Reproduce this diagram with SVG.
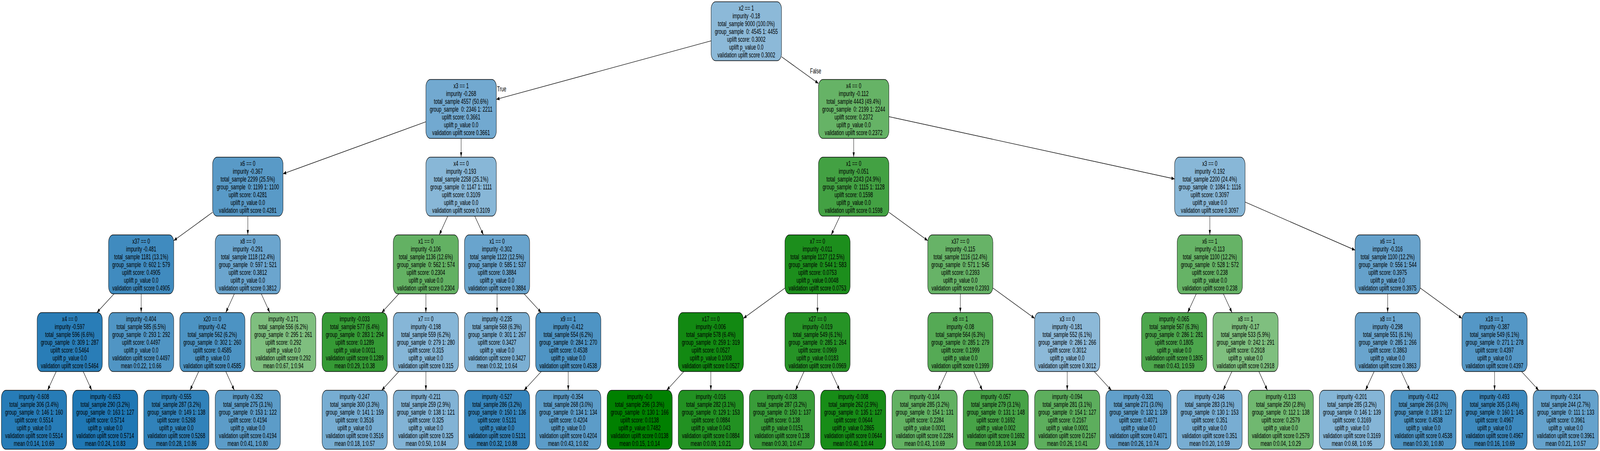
<svg xmlns="http://www.w3.org/2000/svg" width="6676" height="1155" viewBox="0 0 6676 1155" preserveAspectRatio="none" style="width:100vw;height:100vh;display:block">
<defs>
<style>
.node rect{stroke:#000;stroke-width:1.4;rx:19px;ry:19px}
.node text{font-family:"Liberation Sans",Arial,sans-serif;font-size:19px;text-anchor:middle;fill:#000}
.edges line{stroke:#000;stroke-width:1.4;marker-end:url(#arr)}
.elabel{font-family:"Liberation Sans",Arial,sans-serif;font-size:19px;fill:#000}
</style>
<marker id="arr" markerUnits="userSpaceOnUse" markerWidth="14" markerHeight="10" refX="13" refY="5" orient="auto" viewBox="0 0 14 10"><path d="M0,0.5 L13,5 L0,9.5 z" fill="#000"/></marker>
</defs>
<rect x="0" y="0" width="6676" height="1155" fill="#fff"/>
<g id="edges" class="edges">
<line x1="2967" y1="104.6" x2="2071" y2="254.4"/>
<line x1="3261" y1="145.3" x2="3415" y2="213.7"/>
<line x1="1777" y1="311.9" x2="1181" y2="445.1"/>
<line x1="1924" y1="354.5" x2="1924" y2="402.5"/>
<line x1="3562" y1="354.5" x2="3562" y2="402.5"/>
<line x1="3709" y1="298.7" x2="4901" y2="458.3"/>
<line x1="887" y1="543.7" x2="725" y2="616.2"/>
<line x1="1034" y1="553.5" x2="1034" y2="601.5"/>
<line x1="1868.2" y1="553.5" x2="1832.8" y2="601.5"/>
<line x1="1980.9" y1="553.5" x2="2017.1" y2="601.5"/>
<line x1="3504.7" y1="553.5" x2="3468.3" y2="601.5"/>
<line x1="3709" y1="543.7" x2="3871" y2="616.2"/>
<line x1="5048" y1="553.5" x2="5048" y2="601.5"/>
<line x1="5195" y1="517.4" x2="5654" y2="640.5"/>
<line x1="475.9" y1="752.5" x2="404.1" y2="800.5"/>
<line x1="589" y1="752.5" x2="589" y2="800.5"/>
<line x1="977.8" y1="752.5" x2="942.2" y2="800.5"/>
<line x1="1090.2" y1="752.5" x2="1125.8" y2="800.5"/>
<line x1="1664.3" y1="752.5" x2="1592.7" y2="800.5"/>
<line x1="1777" y1="752.5" x2="1777" y2="800.5"/>
<line x1="2074" y1="752.5" x2="2074" y2="800.5"/>
<line x1="2186.7" y1="752.5" x2="2258.3" y2="800.5"/>
<line x1="3275" y1="737.8" x2="3102" y2="815.2"/>
<line x1="3411" y1="752.5" x2="3411" y2="800.5"/>
<line x1="4007" y1="752.5" x2="4007" y2="800.5"/>
<line x1="4143" y1="737.7" x2="4317" y2="815.3"/>
<line x1="4991.5" y1="752.5" x2="4955.5" y2="800.5"/>
<line x1="5104.5" y1="752.5" x2="5140.5" y2="800.5"/>
<line x1="5790" y1="752.5" x2="5790" y2="800.5"/>
<line x1="5926" y1="737.7" x2="6100" y2="815.3"/>
<line x1="234.5" y1="951.5" x2="198.5" y2="999.5"/>
<line x1="347.2" y1="951.5" x2="382.8" y2="999.5"/>
<line x1="829.1" y1="951.5" x2="792.9" y2="999.5"/>
<line x1="942.2" y1="951.5" x2="977.8" y2="999.5"/>
<line x1="1664.3" y1="951.5" x2="1592.7" y2="999.5"/>
<line x1="1777" y1="951.5" x2="1777" y2="999.5"/>
<line x1="2258.3" y1="951.5" x2="2186.7" y2="999.5"/>
<line x1="2371" y1="951.5" x2="2371" y2="999.5"/>
<line x1="2853.3" y1="951.5" x2="2781.7" y2="999.5"/>
<line x1="2966" y1="951.5" x2="2966" y2="999.5"/>
<line x1="3354.8" y1="951.5" x2="3319.2" y2="999.5"/>
<line x1="3467.5" y1="951.5" x2="3503.5" y2="999.5"/>
<line x1="3950.5" y1="951.5" x2="3914.5" y2="999.5"/>
<line x1="4063.2" y1="951.5" x2="4098.8" y2="999.5"/>
<line x1="4453" y1="951.5" x2="4453" y2="999.5"/>
<line x1="4565.7" y1="951.5" x2="4637.3" y2="999.5"/>
<line x1="5140.1" y1="951.5" x2="5103.9" y2="999.5"/>
<line x1="5252.8" y1="951.5" x2="5288.2" y2="999.5"/>
<line x1="5733.5" y1="951.5" x2="5697.5" y2="999.5"/>
<line x1="5846.5" y1="951.5" x2="5882.5" y2="999.5"/>
<line x1="6236" y1="951.5" x2="6236" y2="999.5"/>
<line x1="6348.7" y1="951.5" x2="6420.3" y2="999.5"/>
<text class="elabel" x="2074" y="234">True</text>
<text class="elabel" x="3380" y="188">False</text>
</g>

<g id="n0" class="node"><rect x="2967" y="4.5" width="294" height="151" fill="#8cb9d8"/><text x="3114" y="26.8"><tspan x="3114">x2 == 1</tspan><tspan x="3114" dy="20">impurity -0.18</tspan><tspan x="3114" dy="20">total_sample 9000 (100.0%)</tspan><tspan x="3114" dy="20">group_sample&#160; 0: 4545 1: 4455</tspan><tspan x="3114" dy="20">uplift score: 0.3002</tspan><tspan x="3114" dy="20">uplift p_value 0.0</tspan><tspan x="3114" dy="20">validation uplift score 0.3002</tspan></text></g>

<g id="n1" class="node"><rect x="1777" y="203.5" width="294" height="151" fill="#72a9d0"/><text x="1924" y="225.8"><tspan x="1924">x3 == 1</tspan><tspan x="1924" dy="20">impurity -0.268</tspan><tspan x="1924" dy="20">total_sample 4557 (50.6%)</tspan><tspan x="1924" dy="20">group_sample&#160; 0: 2346 1: 2211</tspan><tspan x="1924" dy="20">uplift score: 0.3661</tspan><tspan x="1924" dy="20">uplift p_value 0.0</tspan><tspan x="1924" dy="20">validation uplift score 0.3661</tspan></text></g>
<g id="n2" class="node"><rect x="3415" y="203.5" width="294" height="151" fill="#66b366"/><text x="3562" y="225.8"><tspan x="3562">x4 == 0</tspan><tspan x="3562" dy="20">impurity -0.112</tspan><tspan x="3562" dy="20">total_sample 4443 (49.4%)</tspan><tspan x="3562" dy="20">group_sample&#160; 0: 2199 1: 2244</tspan><tspan x="3562" dy="20">uplift score: 0.2372</tspan><tspan x="3562" dy="20">uplift p_value 0.0</tspan><tspan x="3562" dy="20">validation uplift score 0.2372</tspan></text></g>

<g id="n3" class="node"><rect x="887" y="402.5" width="294" height="151" fill="#599ac7"/><text x="1034" y="424.8"><tspan x="1034">x6 == 0</tspan><tspan x="1034" dy="20">impurity -0.367</tspan><tspan x="1034" dy="20">total_sample 2299 (25.5%)</tspan><tspan x="1034" dy="20">group_sample&#160; 0: 1199 1: 1100</tspan><tspan x="1034" dy="20">uplift score: 0.4281</tspan><tspan x="1034" dy="20">uplift p_value 0.0</tspan><tspan x="1034" dy="20">validation uplift score 0.4281</tspan></text></g>
<g id="n4" class="node"><rect x="1777" y="402.5" width="294" height="151" fill="#88b7d7"/><text x="1924" y="424.8"><tspan x="1924">x4 == 0</tspan><tspan x="1924" dy="20">impurity -0.193</tspan><tspan x="1924" dy="20">total_sample 2258 (25.1%)</tspan><tspan x="1924" dy="20">group_sample&#160; 0: 1147 1: 1111</tspan><tspan x="1924" dy="20">uplift score: 0.3109</tspan><tspan x="1924" dy="20">uplift p_value 0.0</tspan><tspan x="1924" dy="20">validation uplift score 0.3109</tspan></text></g>
<g id="n5" class="node"><rect x="3415" y="402.5" width="294" height="151" fill="#43a143"/><text x="3562" y="424.8"><tspan x="3562">x1 == 0</tspan><tspan x="3562" dy="20">impurity -0.051</tspan><tspan x="3562" dy="20">total_sample 2243 (24.9%)</tspan><tspan x="3562" dy="20">group_sample&#160; 0: 1115 1: 1128</tspan><tspan x="3562" dy="20">uplift score: 0.1598</tspan><tspan x="3562" dy="20">uplift p_value 0.0</tspan><tspan x="3562" dy="20">validation uplift score 0.1598</tspan></text></g>
<g id="n6" class="node"><rect x="4901" y="402.5" width="294" height="151" fill="#88b7d7"/><text x="5048" y="424.8"><tspan x="5048">x3 == 0</tspan><tspan x="5048" dy="20">impurity -0.192</tspan><tspan x="5048" dy="20">total_sample 2200 (24.4%)</tspan><tspan x="5048" dy="20">group_sample&#160; 0: 1084 1: 1116</tspan><tspan x="5048" dy="20">uplift score: 0.3097</tspan><tspan x="5048" dy="20">uplift p_value 0.0</tspan><tspan x="5048" dy="20">validation uplift score 0.3097</tspan></text></g>

<g id="n7" class="node"><rect x="453" y="601.5" width="272" height="151" fill="#408bbf"/><text x="589" y="623.8"><tspan x="589">x37 == 0</tspan><tspan x="589" dy="20">impurity -0.481</tspan><tspan x="589" dy="20">total_sample 1181 (13.1%)</tspan><tspan x="589" dy="20">group_sample&#160; 0: 602 1: 579</tspan><tspan x="589" dy="20">uplift score: 0.4905</tspan><tspan x="589" dy="20">uplift p_value 0.0</tspan><tspan x="589" dy="20">validation uplift score 0.4905</tspan></text></g>
<g id="n8" class="node"><rect x="898" y="601.5" width="272" height="151" fill="#6ba5ce"/><text x="1034" y="623.8"><tspan x="1034">x8 == 0</tspan><tspan x="1034" dy="20">impurity -0.291</tspan><tspan x="1034" dy="20">total_sample 1118 (12.4%)</tspan><tspan x="1034" dy="20">group_sample&#160; 0: 597 1: 521</tspan><tspan x="1034" dy="20">uplift score: 0.3812</tspan><tspan x="1034" dy="20">uplift p_value 0.0</tspan><tspan x="1034" dy="20">validation uplift score 0.3812</tspan></text></g>
<g id="n9" class="node"><rect x="1641" y="601.5" width="272" height="151" fill="#63b163"/><text x="1777" y="623.8"><tspan x="1777">x1 == 0</tspan><tspan x="1777" dy="20">impurity -0.106</tspan><tspan x="1777" dy="20">total_sample 1136 (12.6%)</tspan><tspan x="1777" dy="20">group_sample&#160; 0: 562 1: 574</tspan><tspan x="1777" dy="20">uplift score: 0.2304</tspan><tspan x="1777" dy="20">uplift p_value 0.0</tspan><tspan x="1777" dy="20">validation uplift score 0.2304</tspan></text></g>
<g id="n10" class="node"><rect x="1938" y="601.5" width="272" height="151" fill="#69a4cd"/><text x="2074" y="623.8"><tspan x="2074">x1 == 0</tspan><tspan x="2074" dy="20">impurity -0.302</tspan><tspan x="2074" dy="20">total_sample 1122 (12.5%)</tspan><tspan x="2074" dy="20">group_sample&#160; 0: 585 1: 537</tspan><tspan x="2074" dy="20">uplift score: 0.3884</tspan><tspan x="2074" dy="20">uplift p_value 0.0</tspan><tspan x="2074" dy="20">validation uplift score 0.3884</tspan></text></g>
<g id="n11" class="node"><rect x="3275" y="601.5" width="272" height="151" fill="#1c8e1c"/><text x="3411" y="623.8"><tspan x="3411">x7 == 0</tspan><tspan x="3411" dy="20">impurity -0.011</tspan><tspan x="3411" dy="20">total_sample 1127 (12.5%)</tspan><tspan x="3411" dy="20">group_sample&#160; 0: 544 1: 583</tspan><tspan x="3411" dy="20">uplift score: 0.0753</tspan><tspan x="3411" dy="20">uplift p_value 0.0048</tspan><tspan x="3411" dy="20">validation uplift score 0.0753</tspan></text></g>
<g id="n12" class="node"><rect x="3871" y="601.5" width="272" height="151" fill="#67b367"/><text x="4007" y="623.8"><tspan x="4007">x37 == 0</tspan><tspan x="4007" dy="20">impurity -0.115</tspan><tspan x="4007" dy="20">total_sample 1116 (12.4%)</tspan><tspan x="4007" dy="20">group_sample&#160; 0: 571 1: 545</tspan><tspan x="4007" dy="20">uplift score: 0.2393</tspan><tspan x="4007" dy="20">uplift p_value 0.0</tspan><tspan x="4007" dy="20">validation uplift score 0.2393</tspan></text></g>
<g id="n13" class="node"><rect x="4912" y="601.5" width="272" height="151" fill="#66b366"/><text x="5048" y="623.8"><tspan x="5048">x6 == 1</tspan><tspan x="5048" dy="20">impurity -0.113</tspan><tspan x="5048" dy="20">total_sample 1100 (12.2%)</tspan><tspan x="5048" dy="20">group_sample&#160; 0: 528 1: 572</tspan><tspan x="5048" dy="20">uplift score: 0.238</tspan><tspan x="5048" dy="20">uplift p_value 0.0</tspan><tspan x="5048" dy="20">validation uplift score 0.238</tspan></text></g>
<g id="n14" class="node"><rect x="5654" y="601.5" width="272" height="151" fill="#65a1cb"/><text x="5790" y="623.8"><tspan x="5790">x6 == 1</tspan><tspan x="5790" dy="20">impurity -0.316</tspan><tspan x="5790" dy="20">total_sample 1100 (12.2%)</tspan><tspan x="5790" dy="20">group_sample&#160; 0: 556 1: 544</tspan><tspan x="5790" dy="20">uplift score: 0.3975</tspan><tspan x="5790" dy="20">uplift p_value 0.0</tspan><tspan x="5790" dy="20">validation uplift score 0.3975</tspan></text></g>

<g id="n15" class="node"><rect x="155" y="800.5" width="272" height="151" fill="#297db7"/><text x="291" y="822.8"><tspan x="291">x4 == 0</tspan><tspan x="291" dy="20">impurity -0.597</tspan><tspan x="291" dy="20">total_sample 596 (6.6%)</tspan><tspan x="291" dy="20">group_sample&#160; 0: 309 1: 287</tspan><tspan x="291" dy="20">uplift score: 0.5464</tspan><tspan x="291" dy="20">uplift p_value 0.0</tspan><tspan x="291" dy="20">validation uplift score 0.5464</tspan></text></g>
<g id="n16" class="node"><rect x="453" y="800.5" width="272" height="151" fill="#5095c4"/><text x="589" y="822.8"><tspan x="589">impurity -0.404</tspan><tspan x="589" dy="20">total_sample 585 (6.5%)</tspan><tspan x="589" dy="20">group_sample&#160; 0: 293 1: 292</tspan><tspan x="589" dy="20">uplift score: 0.4497</tspan><tspan x="589" dy="20">uplift p_value 0.0</tspan><tspan x="589" dy="20">validation uplift score 0.4497</tspan><tspan x="589" dy="20">mean 0:0.22, 1:0.66</tspan></text></g>
<g id="n17" class="node"><rect x="750" y="800.5" width="272" height="151" fill="#4c93c3"/><text x="886" y="822.8"><tspan x="886">x20 == 0</tspan><tspan x="886" dy="20">impurity -0.42</tspan><tspan x="886" dy="20">total_sample 562 (6.2%)</tspan><tspan x="886" dy="20">group_sample&#160; 0: 302 1: 260</tspan><tspan x="886" dy="20">uplift score: 0.4585</tspan><tspan x="886" dy="20">uplift p_value 0.0</tspan><tspan x="886" dy="20">validation uplift score 0.4585</tspan></text></g>
<g id="n18" class="node"><rect x="1046" y="800.5" width="272" height="151" fill="#7fbf7f"/><text x="1182" y="822.8"><tspan x="1182">impurity -0.171</tspan><tspan x="1182" dy="20">total_sample 556 (6.2%)</tspan><tspan x="1182" dy="20">group_sample&#160; 0: 295 1: 261</tspan><tspan x="1182" dy="20">uplift score: 0.292</tspan><tspan x="1182" dy="20">uplift p_value 0.0</tspan><tspan x="1182" dy="20">validation uplift score 0.292</tspan><tspan x="1182" dy="20">mean 0:0.67, 1:0.94</tspan></text></g>
<g id="n19" class="node"><rect x="1344" y="800.5" width="272" height="151" fill="#359a35"/><text x="1480" y="822.8"><tspan x="1480">impurity -0.033</tspan><tspan x="1480" dy="20">total_sample 577 (6.4%)</tspan><tspan x="1480" dy="20">group_sample&#160; 0: 283 1: 294</tspan><tspan x="1480" dy="20">uplift score: 0.1289</tspan><tspan x="1480" dy="20">uplift p_value 0.0011</tspan><tspan x="1480" dy="20">validation uplift score 0.1289</tspan><tspan x="1480" dy="20">mean 0:0.29, 1:0.38</tspan></text></g>
<g id="n20" class="node"><rect x="1641" y="800.5" width="272" height="151" fill="#86b6d7"/><text x="1777" y="822.8"><tspan x="1777">x7 == 0</tspan><tspan x="1777" dy="20">impurity -0.198</tspan><tspan x="1777" dy="20">total_sample 559 (6.2%)</tspan><tspan x="1777" dy="20">group_sample&#160; 0: 279 1: 280</tspan><tspan x="1777" dy="20">uplift score: 0.315</tspan><tspan x="1777" dy="20">uplift p_value 0.0</tspan><tspan x="1777" dy="20">validation uplift score 0.315</tspan></text></g>
<g id="n21" class="node"><rect x="1938" y="800.5" width="272" height="151" fill="#7bafd3"/><text x="2074" y="822.8"><tspan x="2074">impurity -0.235</tspan><tspan x="2074" dy="20">total_sample 568 (6.3%)</tspan><tspan x="2074" dy="20">group_sample&#160; 0: 301 1: 267</tspan><tspan x="2074" dy="20">uplift score: 0.3427</tspan><tspan x="2074" dy="20">uplift p_value 0.0</tspan><tspan x="2074" dy="20">validation uplift score 0.3427</tspan><tspan x="2074" dy="20">mean 0:0.32, 1:0.64</tspan></text></g>
<g id="n22" class="node"><rect x="2235" y="800.5" width="272" height="151" fill="#4e94c4"/><text x="2371" y="822.8"><tspan x="2371">x9 == 1</tspan><tspan x="2371" dy="20">impurity -0.412</tspan><tspan x="2371" dy="20">total_sample 554 (6.2%)</tspan><tspan x="2371" dy="20">group_sample&#160; 0: 284 1: 270</tspan><tspan x="2371" dy="20">uplift score: 0.4538</tspan><tspan x="2371" dy="20">uplift p_value 0.0</tspan><tspan x="2371" dy="20">validation uplift score 0.4538</tspan></text></g>
<g id="n23" class="node"><rect x="2830" y="800.5" width="272" height="151" fill="#128912"/><text x="2966" y="822.8"><tspan x="2966">x17 == 0</tspan><tspan x="2966" dy="20">impurity -0.006</tspan><tspan x="2966" dy="20">total_sample 578 (6.4%)</tspan><tspan x="2966" dy="20">group_sample&#160; 0: 259 1: 319</tspan><tspan x="2966" dy="20">uplift score: 0.0527</tspan><tspan x="2966" dy="20">uplift p_value 0.1008</tspan><tspan x="2966" dy="20">validation uplift score 0.0527</tspan></text></g>
<g id="n24" class="node"><rect x="3275" y="800.5" width="272" height="151" fill="#269326"/><text x="3411" y="822.8"><tspan x="3411">x27 == 0</tspan><tspan x="3411" dy="20">impurity -0.019</tspan><tspan x="3411" dy="20">total_sample 549 (6.1%)</tspan><tspan x="3411" dy="20">group_sample&#160; 0: 285 1: 264</tspan><tspan x="3411" dy="20">uplift score: 0.0969</tspan><tspan x="3411" dy="20">uplift p_value 0.0183</tspan><tspan x="3411" dy="20">validation uplift score 0.0969</tspan></text></g>
<g id="n25" class="node"><rect x="3871" y="800.5" width="272" height="151" fill="#55aa55"/><text x="4007" y="822.8"><tspan x="4007">x8 == 1</tspan><tspan x="4007" dy="20">impurity -0.08</tspan><tspan x="4007" dy="20">total_sample 564 (6.3%)</tspan><tspan x="4007" dy="20">group_sample&#160; 0: 285 1: 279</tspan><tspan x="4007" dy="20">uplift score: 0.1999</tspan><tspan x="4007" dy="20">uplift p_value 0.0</tspan><tspan x="4007" dy="20">validation uplift score 0.1999</tspan></text></g>
<g id="n26" class="node"><rect x="4317" y="800.5" width="272" height="151" fill="#8cb9d8"/><text x="4453" y="822.8"><tspan x="4453">x3 == 0</tspan><tspan x="4453" dy="20">impurity -0.181</tspan><tspan x="4453" dy="20">total_sample 552 (6.1%)</tspan><tspan x="4453" dy="20">group_sample&#160; 0: 286 1: 266</tspan><tspan x="4453" dy="20">uplift score: 0.3012</tspan><tspan x="4453" dy="20">uplift p_value 0.0</tspan><tspan x="4453" dy="20">validation uplift score 0.3012</tspan></text></g>
<g id="n27" class="node"><rect x="4763" y="800.5" width="272" height="151" fill="#4ca64c"/><text x="4899" y="822.8"><tspan x="4899">impurity -0.065</tspan><tspan x="4899" dy="20">total_sample 567 (6.3%)</tspan><tspan x="4899" dy="20">group_sample&#160; 0: 286 1: 281</tspan><tspan x="4899" dy="20">uplift score: 0.1805</tspan><tspan x="4899" dy="20">uplift p_value 0.0</tspan><tspan x="4899" dy="20">validation uplift score 0.1805</tspan><tspan x="4899" dy="20">mean 0:0.43, 1:0.59</tspan></text></g>
<g id="n28" class="node"><rect x="5061" y="800.5" width="272" height="151" fill="#7fbf7f"/><text x="5197" y="822.8"><tspan x="5197">x8 == 1</tspan><tspan x="5197" dy="20">impurity -0.17</tspan><tspan x="5197" dy="20">total_sample 533 (5.9%)</tspan><tspan x="5197" dy="20">group_sample&#160; 0: 242 1: 291</tspan><tspan x="5197" dy="20">uplift score: 0.2918</tspan><tspan x="5197" dy="20">uplift p_value 0.0</tspan><tspan x="5197" dy="20">validation uplift score 0.2918</tspan></text></g>
<g id="n29" class="node"><rect x="5654" y="800.5" width="272" height="151" fill="#69a4cd"/><text x="5790" y="822.8"><tspan x="5790">x8 == 1</tspan><tspan x="5790" dy="20">impurity -0.298</tspan><tspan x="5790" dy="20">total_sample 551 (6.1%)</tspan><tspan x="5790" dy="20">group_sample&#160; 0: 285 1: 266</tspan><tspan x="5790" dy="20">uplift score: 0.3863</tspan><tspan x="5790" dy="20">uplift p_value 0.0</tspan><tspan x="5790" dy="20">validation uplift score 0.3863</tspan></text></g>
<g id="n30" class="node"><rect x="6100" y="800.5" width="272" height="151" fill="#5497c6"/><text x="6236" y="822.8"><tspan x="6236">x18 == 1</tspan><tspan x="6236" dy="20">impurity -0.387</tspan><tspan x="6236" dy="20">total_sample 549 (6.1%)</tspan><tspan x="6236" dy="20">group_sample&#160; 0: 271 1: 278</tspan><tspan x="6236" dy="20">uplift score: 0.4397</tspan><tspan x="6236" dy="20">uplift p_value 0.0</tspan><tspan x="6236" dy="20">validation uplift score 0.4397</tspan></text></g>

<g id="n31" class="node"><rect x="6" y="999.5" width="272" height="151" fill="#277cb7"/><text x="142" y="1021.8"><tspan x="142">impurity -0.608</tspan><tspan x="142" dy="20">total_sample 306 (3.4%)</tspan><tspan x="142" dy="20">group_sample&#160; 0: 146 1: 160</tspan><tspan x="142" dy="20">uplift score: 0.5514</tspan><tspan x="142" dy="20">uplift p_value 0.0</tspan><tspan x="142" dy="20">validation uplift score 0.5514</tspan><tspan x="142" dy="20">mean 0:0.14, 1:0.69</tspan></text></g>
<g id="n32" class="node"><rect x="303" y="999.5" width="272" height="151" fill="#1f77b4"/><text x="439" y="1021.8"><tspan x="439">impurity -0.653</tspan><tspan x="439" dy="20">total_sample 290 (3.2%)</tspan><tspan x="439" dy="20">group_sample&#160; 0: 163 1: 127</tspan><tspan x="439" dy="20">uplift score: 0.5714</tspan><tspan x="439" dy="20">uplift p_value 0.0</tspan><tspan x="439" dy="20">validation uplift score 0.5714</tspan><tspan x="439" dy="20">mean 0:0.24, 1:0.83</tspan></text></g>
<g id="n33" class="node"><rect x="600" y="999.5" width="272" height="151" fill="#3182ba"/><text x="736" y="1021.8"><tspan x="736">impurity -0.555</tspan><tspan x="736" dy="20">total_sample 287 (3.2%)</tspan><tspan x="736" dy="20">group_sample&#160; 0: 149 1: 138</tspan><tspan x="736" dy="20">uplift score: 0.5268</tspan><tspan x="736" dy="20">uplift p_value 0.0</tspan><tspan x="736" dy="20">validation uplift score 0.5268</tspan><tspan x="736" dy="20">mean 0:0.28, 1:0.86</tspan></text></g>
<g id="n34" class="node"><rect x="898" y="999.5" width="272" height="151" fill="#5c9cc8"/><text x="1034" y="1021.8"><tspan x="1034">impurity -0.352</tspan><tspan x="1034" dy="20">total_sample 275 (3.1%)</tspan><tspan x="1034" dy="20">group_sample&#160; 0: 153 1: 122</tspan><tspan x="1034" dy="20">uplift score: 0.4194</tspan><tspan x="1034" dy="20">uplift p_value 0.0</tspan><tspan x="1034" dy="20">validation uplift score 0.4194</tspan><tspan x="1034" dy="20">mean 0:0.41, 1:0.80</tspan></text></g>
<g id="n35" class="node"><rect x="1344" y="999.5" width="272" height="151" fill="#77add2"/><text x="1480" y="1021.8"><tspan x="1480">impurity -0.247</tspan><tspan x="1480" dy="20">total_sample 300 (3.3%)</tspan><tspan x="1480" dy="20">group_sample&#160; 0: 141 1: 159</tspan><tspan x="1480" dy="20">uplift score: 0.3516</tspan><tspan x="1480" dy="20">uplift p_value 0.0</tspan><tspan x="1480" dy="20">validation uplift score 0.3516</tspan><tspan x="1480" dy="20">mean 0:0.18, 1:0.57</tspan></text></g>
<g id="n36" class="node"><rect x="1641" y="999.5" width="272" height="151" fill="#82b3d5"/><text x="1777" y="1021.8"><tspan x="1777">impurity -0.211</tspan><tspan x="1777" dy="20">total_sample 259 (2.9%)</tspan><tspan x="1777" dy="20">group_sample&#160; 0: 138 1: 121</tspan><tspan x="1777" dy="20">uplift score: 0.325</tspan><tspan x="1777" dy="20">uplift p_value 0.0</tspan><tspan x="1777" dy="20">validation uplift score 0.325</tspan><tspan x="1777" dy="20">mean 0:0.50, 1:0.84</tspan></text></g>
<g id="n37" class="node"><rect x="1938" y="999.5" width="272" height="151" fill="#3685bc"/><text x="2074" y="1021.8"><tspan x="2074">impurity -0.527</tspan><tspan x="2074" dy="20">total_sample 286 (3.2%)</tspan><tspan x="2074" dy="20">group_sample&#160; 0: 150 1: 136</tspan><tspan x="2074" dy="20">uplift score: 0.5131</tspan><tspan x="2074" dy="20">uplift p_value 0.0</tspan><tspan x="2074" dy="20">validation uplift score 0.5131</tspan><tspan x="2074" dy="20">mean 0:0.32, 1:0.88</tspan></text></g>
<g id="n38" class="node"><rect x="2235" y="999.5" width="272" height="151" fill="#5c9cc8"/><text x="2371" y="1021.8"><tspan x="2371">impurity -0.354</tspan><tspan x="2371" dy="20">total_sample 268 (3.0%)</tspan><tspan x="2371" dy="20">group_sample&#160; 0: 134 1: 134</tspan><tspan x="2371" dy="20">uplift score: 0.4204</tspan><tspan x="2371" dy="20">uplift p_value 0.0</tspan><tspan x="2371" dy="20">validation uplift score 0.4204</tspan><tspan x="2371" dy="20">mean 0:0.43, 1:0.82</tspan></text></g>
<g id="n39" class="node"><rect x="2533" y="999.5" width="272" height="151" fill="#008000"/><text x="2669" y="1021.8"><tspan x="2669">impurity -0.0</tspan><tspan x="2669" dy="20">total_sample 296 (3.3%)</tspan><tspan x="2669" dy="20">group_sample&#160; 0: 130 1: 166</tspan><tspan x="2669" dy="20">uplift score: 0.0138</tspan><tspan x="2669" dy="20">uplift p_value 0.7482</tspan><tspan x="2669" dy="20">validation uplift score 0.0138</tspan><tspan x="2669" dy="20">mean 0:0.15, 1:0.14</tspan></text></g>
<g id="n40" class="node"><rect x="2830" y="999.5" width="272" height="151" fill="#229122"/><text x="2966" y="1021.8"><tspan x="2966">impurity -0.016</tspan><tspan x="2966" dy="20">total_sample 282 (3.1%)</tspan><tspan x="2966" dy="20">group_sample&#160; 0: 129 1: 153</tspan><tspan x="2966" dy="20">uplift score: 0.0884</tspan><tspan x="2966" dy="20">uplift p_value 0.043</tspan><tspan x="2966" dy="20">validation uplift score 0.0884</tspan><tspan x="2966" dy="20">mean 0:0.09, 1:0.21</tspan></text></g>
<g id="n41" class="node"><rect x="3127" y="999.5" width="272" height="151" fill="#399c39"/><text x="3263" y="1021.8"><tspan x="3263">impurity -0.038</tspan><tspan x="3263" dy="20">total_sample 287 (3.2%)</tspan><tspan x="3263" dy="20">group_sample&#160; 0: 150 1: 137</tspan><tspan x="3263" dy="20">uplift score: 0.138</tspan><tspan x="3263" dy="20">uplift p_value 0.0151</tspan><tspan x="3263" dy="20">validation uplift score 0.138</tspan><tspan x="3263" dy="20">mean 0:0.30, 1:0.47</tspan></text></g>
<g id="n42" class="node"><rect x="3424" y="999.5" width="272" height="151" fill="#178c17"/><text x="3560" y="1021.8"><tspan x="3560">impurity -0.008</tspan><tspan x="3560" dy="20">total_sample 262 (2.9%)</tspan><tspan x="3560" dy="20">group_sample&#160; 0: 135 1: 127</tspan><tspan x="3560" dy="20">uplift score: 0.0644</tspan><tspan x="3560" dy="20">uplift p_value 0.2865</tspan><tspan x="3560" dy="20">validation uplift score 0.0644</tspan><tspan x="3560" dy="20">mean 0:0.40, 1:0.44</tspan></text></g>
<g id="n43" class="node"><rect x="3722" y="999.5" width="272" height="151" fill="#62b162"/><text x="3858" y="1021.8"><tspan x="3858">impurity -0.104</tspan><tspan x="3858" dy="20">total_sample 285 (3.2%)</tspan><tspan x="3858" dy="20">group_sample&#160; 0: 154 1: 131</tspan><tspan x="3858" dy="20">uplift score: 0.2284</tspan><tspan x="3858" dy="20">uplift p_value 0.0001</tspan><tspan x="3858" dy="20">validation uplift score 0.2284</tspan><tspan x="3858" dy="20">mean 0:0.43, 1:0.69</tspan></text></g>
<g id="n44" class="node"><rect x="4019" y="999.5" width="272" height="151" fill="#47a347"/><text x="4155" y="1021.8"><tspan x="4155">impurity -0.057</tspan><tspan x="4155" dy="20">total_sample 279 (3.1%)</tspan><tspan x="4155" dy="20">group_sample&#160; 0: 131 1: 148</tspan><tspan x="4155" dy="20">uplift score: 0.1692</tspan><tspan x="4155" dy="20">uplift p_value 0.002</tspan><tspan x="4155" dy="20">validation uplift score 0.1692</tspan><tspan x="4155" dy="20">mean 0:0.18, 1:0.34</tspan></text></g>
<g id="n45" class="node"><rect x="4317" y="999.5" width="272" height="151" fill="#5dae5d"/><text x="4453" y="1021.8"><tspan x="4453">impurity -0.094</tspan><tspan x="4453" dy="20">total_sample 281 (3.1%)</tspan><tspan x="4453" dy="20">group_sample&#160; 0: 154 1: 127</tspan><tspan x="4453" dy="20">uplift score: 0.2167</tspan><tspan x="4453" dy="20">uplift p_value 0.0001</tspan><tspan x="4453" dy="20">validation uplift score 0.2167</tspan><tspan x="4453" dy="20">mean 0:0.26, 1:0.41</tspan></text></g>
<g id="n46" class="node"><rect x="4614" y="999.5" width="272" height="151" fill="#619fca"/><text x="4750" y="1021.8"><tspan x="4750">impurity -0.331</tspan><tspan x="4750" dy="20">total_sample 271 (3.0%)</tspan><tspan x="4750" dy="20">group_sample&#160; 0: 132 1: 139</tspan><tspan x="4750" dy="20">uplift score: 0.4071</tspan><tspan x="4750" dy="20">uplift p_value 0.0</tspan><tspan x="4750" dy="20">validation uplift score 0.4071</tspan><tspan x="4750" dy="20">mean 0:0.26, 1:0.74</tspan></text></g>
<g id="n47" class="node"><rect x="4911" y="999.5" width="272" height="151" fill="#78add2"/><text x="5047" y="1021.8"><tspan x="5047">impurity -0.246</tspan><tspan x="5047" dy="20">total_sample 283 (3.1%)</tspan><tspan x="5047" dy="20">group_sample&#160; 0: 130 1: 153</tspan><tspan x="5047" dy="20">uplift score: 0.351</tspan><tspan x="5047" dy="20">uplift p_value 0.0</tspan><tspan x="5047" dy="20">validation uplift score 0.351</tspan><tspan x="5047" dy="20">mean 0:0.20, 1:0.59</tspan></text></g>
<g id="n48" class="node"><rect x="5208" y="999.5" width="272" height="151" fill="#70b870"/><text x="5344" y="1021.8"><tspan x="5344">impurity -0.133</tspan><tspan x="5344" dy="20">total_sample 250 (2.8%)</tspan><tspan x="5344" dy="20">group_sample&#160; 0: 112 1: 138</tspan><tspan x="5344" dy="20">uplift score: 0.2579</tspan><tspan x="5344" dy="20">uplift p_value 0.0</tspan><tspan x="5344" dy="20">validation uplift score 0.2579</tspan><tspan x="5344" dy="20">mean 0:0.04, 1:0.29</tspan></text></g>
<g id="n49" class="node"><rect x="5505" y="999.5" width="272" height="151" fill="#85b5d6"/><text x="5641" y="1021.8"><tspan x="5641">impurity -0.201</tspan><tspan x="5641" dy="20">total_sample 285 (3.2%)</tspan><tspan x="5641" dy="20">group_sample&#160; 0: 146 1: 139</tspan><tspan x="5641" dy="20">uplift score: 0.3169</tspan><tspan x="5641" dy="20">uplift p_value 0.0</tspan><tspan x="5641" dy="20">validation uplift score 0.3169</tspan><tspan x="5641" dy="20">mean 0:0.68, 1:0.95</tspan></text></g>
<g id="n50" class="node"><rect x="5803" y="999.5" width="272" height="151" fill="#4e94c4"/><text x="5939" y="1021.8"><tspan x="5939">impurity -0.412</tspan><tspan x="5939" dy="20">total_sample 266 (3.0%)</tspan><tspan x="5939" dy="20">group_sample&#160; 0: 139 1: 127</tspan><tspan x="5939" dy="20">uplift score: 0.4538</tspan><tspan x="5939" dy="20">uplift p_value 0.0</tspan><tspan x="5939" dy="20">validation uplift score 0.4538</tspan><tspan x="5939" dy="20">mean 0:0.30, 1:0.80</tspan></text></g>
<g id="n51" class="node"><rect x="6100" y="999.5" width="272" height="151" fill="#3d89be"/><text x="6236" y="1021.8"><tspan x="6236">impurity -0.493</tspan><tspan x="6236" dy="20">total_sample 305 (3.4%)</tspan><tspan x="6236" dy="20">group_sample&#160; 0: 160 1: 145</tspan><tspan x="6236" dy="20">uplift score: 0.4967</tspan><tspan x="6236" dy="20">uplift p_value 0.0</tspan><tspan x="6236" dy="20">validation uplift score 0.4967</tspan><tspan x="6236" dy="20">mean 0:0.16, 1:0.69</tspan></text></g>
<g id="n52" class="node"><rect x="6397" y="999.5" width="272" height="151" fill="#65a2cc"/><text x="6533" y="1021.8"><tspan x="6533">impurity -0.314</tspan><tspan x="6533" dy="20">total_sample 244 (2.7%)</tspan><tspan x="6533" dy="20">group_sample&#160; 0: 111 1: 133</tspan><tspan x="6533" dy="20">uplift score: 0.3961</tspan><tspan x="6533" dy="20">uplift p_value 0.0</tspan><tspan x="6533" dy="20">validation uplift score 0.3961</tspan><tspan x="6533" dy="20">mean 0:0.21, 1:0.57</tspan></text></g>
</svg>
